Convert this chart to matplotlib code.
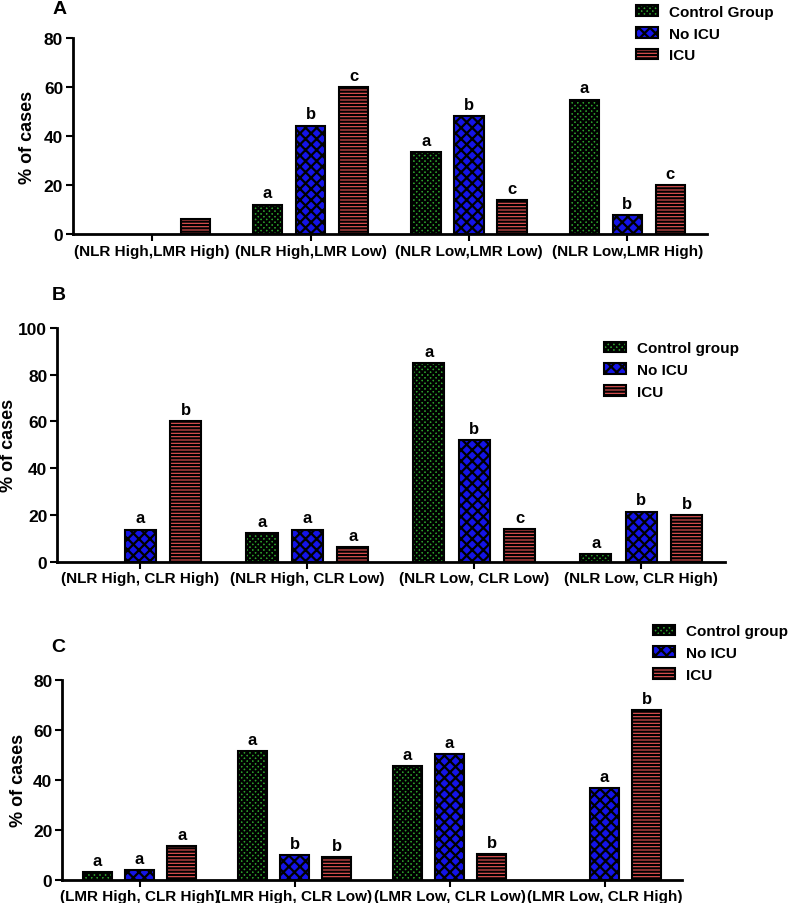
import matplotlib
matplotlib.use('Agg')
import matplotlib.pyplot as plt
from matplotlib.patches import Patch
import numpy as np

plt.rcParams['font.family'] = ['Liberation Sans', 'DejaVu Sans']
plt.rcParams['font.weight'] = 'bold'
plt.rcParams['hatch.linewidth'] = 1.6

# Panel A
cats_a = ['(NLR High,LMR High)', '(NLR High,LMR Low)', '(NLR Low,LMR Low)', '(NLR Low,LMR High)']
control_a = [0, 12.0, 33.4, 54.8]
noicu_a = [0, 44.2, 48.2, 7.8]
icu_a = [6.1, 60.1, 13.9, 20.1]
letters_a = [[None, None, None], ['a', 'b', 'c'], ['a', 'b', 'c'], ['a', 'b', 'c']]
legend_a = ['Control Group', 'No ICU', 'ICU']

# Panel B
cats_b = ['(NLR High, CLR High)', '(NLR High, CLR Low)', '(NLR Low, CLR Low)', '(NLR Low, CLR High)']
control_b = [0, 12.1, 85.0, 3.3]
noicu_b = [13.7, 13.7, 52.1, 21.4]
icu_b = [60.1, 6.4, 14.0, 20.1]
letters_b = [[None, 'a', 'b'], ['a', 'a', 'a'], ['a', 'b', 'c'], ['a', 'b', 'b']]
legend_b = ['Control group', 'No ICU', 'ICU']

# Panel C
cats_c = ['(LMR High, CLR High)', '(LMR High, CLR Low)', '(LMR Low, CLR Low)', '(LMR Low, CLR High)']
control_c = [3.2, 51.6, 45.6, 0]
noicu_c = [4.0, 9.9, 50.3, 36.7]
icu_c = [13.3, 9.1, 10.2, 68.0]
letters_c = [['a', 'a', 'a'], ['a', 'b', 'b'], ['a', 'a', 'b'], [None, 'a', 'b']]
legend_c = ['Control group', 'No ICU', 'ICU']

colors = ['#2ca02c', '#1414e6', '#ea5555']
hatches = ['xxxxxx', 'xxx', '-----']

fig = plt.figure(figsize=(7.94, 9.04), dpi=100)


def panel(rect, cats, series, letters, labels, ymax, ystep, tag, tagpos, legpos, legsize, ylpad):
    ax = fig.add_axes(rect)
    x = np.arange(len(cats))
    step = 0.272
    width = 0.186
    for i, vals in enumerate(series):
        vals = np.array(vals, dtype=float)
        keep = vals > 0
        ax.bar((x + (i - 1) * step)[keep], vals[keep], width, color=colors[i], edgecolor='black',
               linewidth=1.5, hatch=hatches[i])
        for j, v in enumerate(vals):
            lt = letters[j][i]
            if lt:
                ax.annotate(lt, (x[j] + (i - 1) * step, v), xytext=(0, 3), textcoords='offset points',
                            ha='center', va='bottom', fontsize=12, fontweight='bold')
    ax.set_xlim(-0.5, 3.5)
    ax.set_ylim(0, ymax)
    ax.set_yticks(np.arange(0, ymax + 1, ystep))
    ax.set_xticks(x)
    ax.set_xticklabels(cats, fontsize=11, fontweight='bold')
    ax.tick_params(axis='y', labelsize=12.5, width=1.5, length=5, pad=2)
    ax.tick_params(axis='x', width=1.5, length=5, pad=2)
    for lab in ax.get_yticklabels():
        lab.set_fontweight('bold')
    ax.spines['top'].set_visible(False)
    ax.spines['right'].set_visible(False)
    ax.spines['left'].set_linewidth(2)
    ax.spines['bottom'].set_linewidth(2)
    ax.set_ylabel('% of cases', fontsize=13, fontweight='bold', labelpad=ylpad)
    fig.text(tagpos[0], tagpos[1], tag, fontsize=14, fontweight='bold', ha='left', va='top')
    handles = [Patch(facecolor=colors[k], edgecolor='black', linewidth=1.5, hatch=hatches[k], label=labels[k])
               for k in range(3)]
    fig.legend(handles=handles, loc='upper left', bbox_to_anchor=legpos, frameon=False,
               prop={'size': legsize, 'weight': 'bold'}, handlelength=1.45, handleheight=0.7,
               labelspacing=0.5, handletextpad=0.7, borderaxespad=0)
    return ax


ax_a = panel([0.0919, 0.740, 0.798, 0.217], cats_a, [control_a, noicu_a, icu_a], letters_a, legend_a,
             80, 20, 'A', (0.066, 0.999), (0.793, 1.0), 11, 6)
ax_b = panel([0.0718, 0.3776, 0.841, 0.2585], cats_b, [control_b, noicu_b, icu_b], letters_b, legend_b,
             100, 20, 'B', (0.065, 0.683), (0.753, 0.628), 11, 1)
ax_c = panel([0.0781, 0.0258, 0.781, 0.2212], cats_c, [control_c, noicu_c, icu_c], letters_c, legend_c,
             80, 20, 'C', (0.064, 0.293), (0.815, 0.315), 11, 4)

fig.savefig('out.png', dpi=100)
